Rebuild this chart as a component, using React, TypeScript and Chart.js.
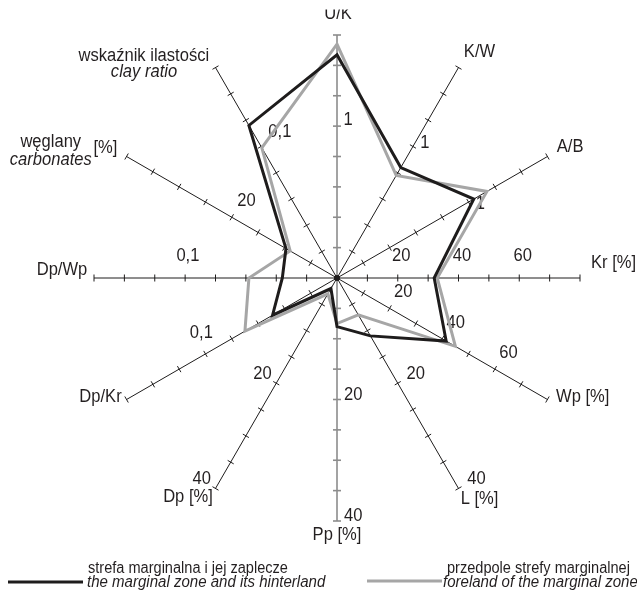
import React, { useEffect, useRef } from 'react';
import { Chart, registerables } from 'chart.js';

Chart.register(...registerables);

// ---------- DATA ----------
const axisKeys = ['U/K', 'K/W', 'A/B', 'Kr [%]', 'Wp [%]', 'L [%]', 'Pp [%]', 'Dp [%]', 'Dp/Kr', 'Dp/Wp', 'węglany [%]', 'wskaźnik ilastości'];
const axisTitles: string[][] = [
  ['U/K'], ['K/W'], ['A/B'], ['Kr [%]'], ['Wp [%]'], ['L [%]'], ['Pp [%]'], ['Dp [%]'],
  ['Dp/Kr'], ['Dp/Wp'], ['węglany', 'carbonates', '[%]'], ['wskaźnik ilastości', 'clay ratio'],
];
// value at the outer end (8th tick) of each axis
const axisMax = [1.6, 1.6, 1.6, 80, 80, 40, 40, 40, 0.16, 0.16, 40, 0.16];
const marginalZone = [1.47, 0.84, 1.04, 32, 41.5, 11, 8, 2, 0.049, 0.036, 9.7, 0.116];
const foreland = [1.54, 0.78, 1.14, 33, 45, 7, 7.5, 3, 0.07, 0.058, 8.9, 0.099];
const tickLabels: [number, string][][] = [
  [[1, '1']], [[1, '1']], [[1, '1']],
  [[20, '20'], [40, '40'], [60, '60']],
  [[20, '20'], [40, '40'], [60, '60']],
  [[20, '20'], [40, '40']],
  [[20, '20'], [40, '40']],
  [[20, '20'], [40, '40']],
  [[0.1, '0,1']], [[0.1, '0,1']], [[20, '20']], [[0.1, '0,1']],
];
const seriesPl = ['strefa marginalna i jej zaplecze', 'przedpole strefy marginalnej'];
const seriesEn = ['the marginal zone and its hinterland', 'foreland of the marginal zone'];
const TICKS = 8;

// ---------- STYLE ----------
const BLACK = '#1e1c1c';
const GRAY = '#a6a6a6';
const TEXT = '#231f20';
const FONT = '"Liberation Sans", Arial, sans-serif';
const tickLabelOffset: [number, number][] = [
  [7.5, 11], [10.3, 7.9], [10, 6.1], [3.5, -23], [3, -22], [-0.5, -21],
  [-6, -16.3], [-2.5, 17.3], [-7.5, 21.2], [-2.8, 23], [-3.7, 23], [4.3, 24.2],
];
type TitlePos = { dx: number; dy: number; align: 'left' | 'center' | 'right'; italic?: boolean };
const titlePos: TitlePos[][] = [
  [{ dx: 1, dy: -16, align: 'center' }],
  [{ dx: 21, dy: -11, align: 'center' }],
  [{ dx: 9.3, dy: -4.8, align: 'left' }],
  [{ dx: 11, dy: -9.7, align: 'left' }],
  [{ dx: 8.6, dy: 2.2, align: 'left' }],
  [{ dx: 21, dy: 15.6, align: 'center' }],
  [{ dx: 0, dy: 19, align: 'center' }],
  [{ dx: -27.5, dy: 13.3, align: 'center' }],
  [{ dx: -4.9, dy: 2.2, align: 'right' }],
  [{ dx: -6.7, dy: -3, align: 'right' }],
  [
    { dx: -75.8, dy: -9.8, align: 'center' },
    { dx: -75.8, dy: 8.5, align: 'center', italic: true },
    { dx: -21.1, dy: -3.5, align: 'center' },
  ],
  [
    { dx: -71.7, dy: -6.9, align: 'center' },
    { dx: -71.5, dy: 9.4, align: 'center', italic: true },
  ],
];
const isGrayAxis = (i: number) => i === 0 || i === 6;

function drawText(
  ctx: CanvasRenderingContext2D, text: string, x: number, y: number,
  size: number, align: 'left' | 'center' | 'right', italic = false, sx = 0.92,
) {
  ctx.save();
  ctx.font = `${italic ? 'italic ' : ''}${size}px ${FONT}`;
  ctx.textAlign = 'left';
  ctx.textBaseline = 'alphabetic';
  const w = ctx.measureText(text).width * sx;
  const left = align === 'center' ? x - w / 2 : align === 'right' ? x - w : x;
  ctx.translate(left, y);
  ctx.scale(sx, 1);
  ctx.fillStyle = TEXT;
  ctx.fillText(text, 0, 0);
  ctx.restore();
}

const radarDecor = {
  id: 'radarDecor',
  beforeDatasetsDraw(chart: any) {
    const ctx: CanvasRenderingContext2D = chart.ctx;
    const r = chart.scales.r;
    const cx = r.xCenter, cy = r.yCenter;
    ctx.save();
    for (let i = 0; i < axisKeys.length; i++) {
      const end = r.getPointPositionForValue(i, TICKS);
      const len = Math.hypot(end.x - cx, end.y - cy);
      const dx = (end.x - cx) / len, dy = (end.y - cy) / len;
      const px = -dy, py = dx;
      ctx.strokeStyle = isGrayAxis(i) ? '#8c8c8c' : BLACK;
      ctx.lineWidth = isGrayAxis(i) ? 1.6 : 1;
      const h = isGrayAxis(i) ? 4 : 3.5;
      for (let t = 1; t <= TICKS; t++) {
        const p = r.getPointPositionForValue(i, t);
        ctx.beginPath();
        ctx.moveTo(p.x - px * h, p.y - py * h);
        ctx.lineTo(p.x + px * h, p.y + py * h);
        ctx.stroke();
      }
      const [al, pe] = tickLabelOffset[i];
      for (const [v, txt] of tickLabels[i]) {
        const p = r.getPointPositionForValue(i, (v / axisMax[i]) * TICKS);
        const lx = p.x + dx * al + px * pe;
        const ly = p.y + dy * al + py * pe;
        drawText(ctx, txt, lx, ly + 0.716 * 18 / 2, 18, 'center');
      }
    }
    ctx.fillStyle = BLACK;
    ctx.beginPath();
    ctx.arc(cx, cy, 3, 0, Math.PI * 2);
    ctx.fill();
    ctx.restore();
  },
  afterDraw(chart: any) {
    const ctx: CanvasRenderingContext2D = chart.ctx;
    const r = chart.scales.r;
    for (let i = 0; i < axisKeys.length; i++) {
      const end = r.getPointPositionForValue(i, TICKS);
      axisTitles[i].forEach((line, k) => {
        const pos = titlePos[i][k];
        ctx.save();
        if (i === 0) {
          ctx.beginPath();
          ctx.rect(0, 9.5, chart.width, chart.height);
          ctx.clip();
        }
        drawText(ctx, line, end.x + pos.dx, end.y + pos.dy, 18, pos.align, !!pos.italic);
        ctx.restore();
      });
    }
    // legend
    const items = [
      { color: BLACK, x0: 8, x1: 83, y: 582, tx: 88, tx2: 87 },
      { color: GRAY, x0: 367, x1: 442, y: 581, tx: 447, tx2: 443 },
    ];
    items.forEach((it, k) => {
      ctx.save();
      ctx.strokeStyle = it.color;
      ctx.lineWidth = 3;
      ctx.beginPath();
      ctx.moveTo(it.x0, it.y);
      ctx.lineTo(it.x1, it.y);
      ctx.stroke();
      ctx.restore();
      drawText(ctx, seriesPl[k], it.tx, 573, 16, 'left', false, 0.91);
      drawText(ctx, seriesEn[k], it.tx2, 587, 16, 'left', true, 0.94);
    });
  },
};

export default function App() {
  const ref = useRef<HTMLCanvasElement | null>(null);
  useEffect(() => {
    if (!ref.current) return;
    const norm = (arr: number[]) => arr.map((v, i) => (v / axisMax[i]) * TICKS);
    const chart = new Chart(ref.current, {
      type: 'radar',
      data: {
        labels: axisKeys,
        datasets: [
          {
            label: seriesPl[0],
            data: norm(marginalZone),
            borderColor: BLACK,
            borderWidth: 3,
            fill: false,
            pointRadius: 0,
            borderJoinStyle: 'miter',
          },
          {
            label: seriesPl[1],
            data: norm(foreland),
            borderColor: GRAY,
            borderWidth: 3,
            fill: false,
            pointRadius: 0,
            borderJoinStyle: 'miter',
          },
        ],
      },
      options: {
        animation: false,
        responsive: true,
        maintainAspectRatio: false,
        layout: { padding: { left: 94, right: 57, top: 35, bottom: 74 } },
        plugins: { legend: { display: false }, tooltip: { enabled: false } },
        elements: { line: { tension: 0 } },
        scales: {
          r: {
            min: 0,
            max: TICKS,
            ticks: { display: false, stepSize: 1 },
            grid: { display: false },
            pointLabels: { display: false },
            angleLines: {
              display: true,
              color: (c: any) => (isGrayAxis(c.index) ? '#8c8c8c' : BLACK),
              lineWidth: (c: any) => (isGrayAxis(c.index) ? 1.6 : 1),
            },
          },
        },
      },
      plugins: [radarDecor],
    } as any);
    return () => chart.destroy();
  }, []);
  return (
    <div style={{ position: 'absolute', left: 0, top: 0, width: 637, height: 595, background: '#fff' }}>
      <canvas ref={ref} />
    </div>
  );
}
